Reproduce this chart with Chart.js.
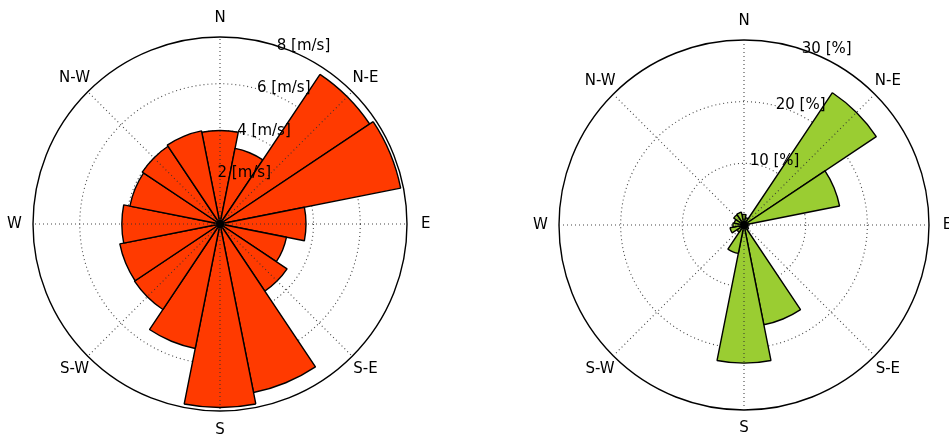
<!DOCTYPE html>
<html>
<head>
<meta charset="utf-8">
<script src="https://cdn.jsdelivr.net/npm/chart.js@4.4.1/dist/chart.umd.min.js"></script>
<style>
  html, body { margin: 0; padding: 0; background: #fff; overflow: hidden; }
  #wrap { position: relative; width: 949px; height: 435px; }
  canvas { position: absolute; top: 0; }
  #speed { left: 0; }
  #freq { left: 474px; }
</style>
</head>
<body>
<div id="wrap">
  <canvas id="speed" width="474" height="435"></canvas>
  <canvas id="freq" width="475" height="435"></canvas>
</div>
<script>
// 16 wind sectors, clockwise from north
const directions = ['N', 'NNE', 'NE', 'ENE', 'E', 'ESE', 'SE', 'SSE',
                    'S', 'SSW', 'SW', 'WSW', 'W', 'WNW', 'NW', 'NNW'];
// compass labels around each rose, every 45 degrees
const compassLabels = ['N', 'N-E', 'E', 'S-E', 'S', 'S-W', 'W', 'N-W'];

// mean wind speed per sector [m/s]
const speedValues = [4.0, 3.3, 7.7, 7.88, 3.68, 2.9, 3.45, 7.35,
                     7.85, 5.43, 4.4, 4.37, 4.2, 3.93, 4.0, 4.06];
// frequency of occurrence per sector [%]
const freqValues = [1.7, 1.2, 25.8, 15.8, 0.8, 0.6, 0.9, 16.5,
                    22.4, 4.7, 1.4, 2.3, 1.8, 1.6, 2.0, 2.1];

const speedTicks = [2, 4, 6, 8];
const freqTicks = [10, 20, 30];
const speedUnit = '[m/s]';
const freqUnit = '[%]';

const FONT = '15px "DejaVu Sans", sans-serif';
const GRID_COLOR = 'rgba(50,50,50,0.9)';

// compass spokes, hub, compass labels and radial labels on top of the bars
function roseDecor(unit, tickValues) {
  return {
    id: 'roseDecor',
    afterDraw(chart) {
      const s = chart.scales.r;
      const ctx = chart.ctx;
      const cx = s.xCenter, cy = s.yCenter, R = s.drawingArea;
      ctx.save();
      // dotted spokes every 45 degrees
      ctx.strokeStyle = GRID_COLOR;
      ctx.lineWidth = 1.1;
      ctx.setLineDash([1, 3]);
      compassLabels.forEach((_, i) => {
        const a = i * Math.PI / 4;
        ctx.beginPath();
        ctx.moveTo(cx, cy);
        ctx.lineTo(cx + R * Math.sin(a), cy - R * Math.cos(a));
        ctx.stroke();
      });
      ctx.setLineDash([]);
      // hub where the sector edges meet
      ctx.fillStyle = '#000';
      ctx.beginPath();
      ctx.arc(cx, cy, 3.5, 0, 2 * Math.PI);
      ctx.fill();
      // compass labels
      ctx.font = FONT;
      ctx.textAlign = 'center';
      ctx.textBaseline = 'middle';
      compassLabels.forEach((lab, i) => {
        const a = i * Math.PI / 4;
        ctx.fillText(lab, cx + 1.1 * R * Math.sin(a), cy - 1.1 * R * Math.cos(a));
      });
      // radial tick labels along a ray just east of north
      const ra = 25 * Math.PI / 180;
      tickValues.forEach(v => {
        const d = s.getDistanceFromCenterForValue(v);
        ctx.fillText(v + ' ' + unit, cx + d * Math.sin(ra) + 4.5, cy - d * Math.cos(ra) - 8.5);
      });
      ctx.restore();
    }
  };
}

function makeRose(canvasId, values, color, maxVal, step, unit, tickValues, padding) {
  return new Chart(document.getElementById(canvasId), {
    type: 'polarArea',
    data: {
      labels: directions,
      datasets: [{
        data: values,
        backgroundColor: color,
        borderColor: '#000',
        borderWidth: 1.4
      }]
    },
    options: {
      responsive: false,
      animation: false,
      devicePixelRatio: 1,
      layout: { padding: padding },
      plugins: { legend: { display: false }, tooltip: { enabled: false } },
      scales: {
        r: {
          z: 1,
          min: 0,
          max: maxVal,
          startAngle: -360 / directions.length / 2,
          ticks: { display: false, stepSize: step },
          angleLines: { display: false },
          pointLabels: { display: false },
          grid: {
            circular: true,
            color: c => (c.tick && c.tick.value === maxVal) ? '#000' : GRID_COLOR,
            lineWidth: c => (c.tick && c.tick.value === maxVal) ? 1.4 : 1.1
          },
          border: {
            dash: c => (c.tick && c.tick.value === maxVal) ? [] : [1, 3]
          }
        }
      }
    },
    plugins: [roseDecor(unit, tickValues)]
  });
}

makeRose('speed', speedValues, '#FF3A00', 8, 2, speedUnit, speedTicks,
         { left: 33, top: 37, right: 67, bottom: 24 });
makeRose('freq', freqValues, '#9ACD32', 30, 10, freqUnit, freqTicks,
         { left: 85, top: 40, right: 19, bottom: 24 });
</script>
</body>
</html>
